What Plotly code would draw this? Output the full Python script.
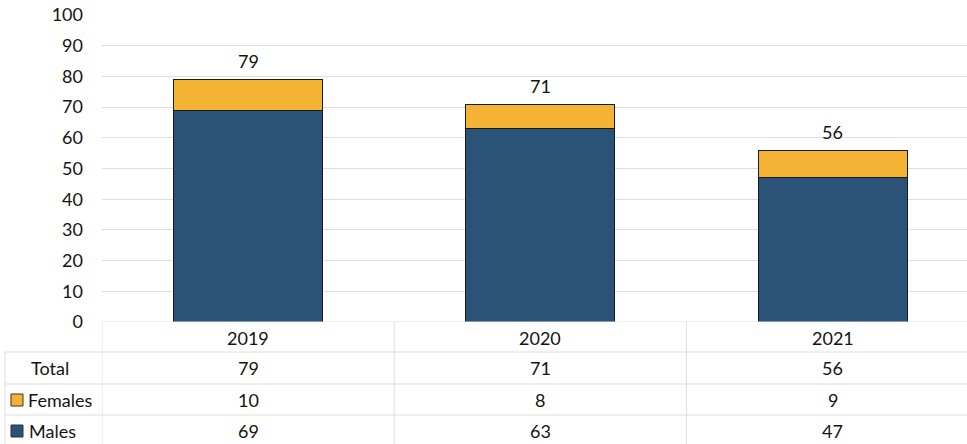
import plotly.graph_objects as go

years = ["2019", "2020", "2021"]
females = [10, 8, 9]
males = [69, 63, 47]
totals = [79, 71, 56]
y_ticks = [0, 10, 20, 30, 40, 50, 60, 70, 80, 90, 100]
row_labels = ["Total", "Females", "Males"]

MALE_C = "#2a5377"
FEMALE_C = "#f5b335"
FONT = "Lato"
TXT = "#141414"
GRID = "#dedede"
FS = 18

W, H = 967, 444
ML, MR, MT, MB = 102, 0, 15, 122
PH = H - MT - MB
PW = W - ML - MR


def py(p):
    return (H - MB - p) / PH


def px(p):
    return (p - ML) / PW


xs = list(range(len(years)))

fig = go.Figure()
fig.add_trace(go.Bar(x=xs, y=males, name="Males",
                     marker=dict(color=MALE_C, line=dict(color="#1a1a1a", width=1)), width=0.51))
fig.add_trace(go.Bar(x=xs, y=females, name="Females",
                     marker=dict(color=FEMALE_C, line=dict(color="#1a1a1a", width=1)), width=0.51))

shapes = []
annotations = []
font = dict(family=FONT, size=FS, color=TXT)
# total labels above bars
for i, t in enumerate(totals):
    annotations.append(dict(x=i, y=t, xref="x", yref="y", text=str(t), showarrow=False,
                            font=font, yanchor="bottom", yshift=5))
# table rows
row_y = [368, 400, 431]
row_vals = [totals, females, males]
for lab, yp, vals in zip(row_labels, row_y, row_vals):
    for i, v in enumerate(vals):
        annotations.append(dict(x=i, y=py(yp), xref="x", yref="paper", text=str(v), showarrow=False,
                                font=font, yanchor="middle"))
for i, y in enumerate(years):
    annotations.append(dict(x=i, y=py(338), xref="x", yref="paper", text=y, showarrow=False,
                            font=font, yanchor="middle"))
# row labels
for lab, xp, yp in [(row_labels[0], 29, 368), (row_labels[1], 26, 400), (row_labels[2], 27, 431)]:
    annotations.append(dict(x=px(xp), y=py(yp), xref="paper", yref="paper", text=lab, showarrow=False,
                            font=font, xanchor="left", yanchor="middle"))
# legend keys
for yp, c in [(400, FEMALE_C), (431, MALE_C)]:
    shapes.append(dict(type="rect", xref="paper", yref="paper", x0=px(11), x1=px(23),
                       y0=py(yp + 6), y1=py(yp - 6), fillcolor=c, line=dict(color="#333", width=1)))
# horizontal table lines
for yp in [352, 384, 415]:
    shapes.append(dict(type="line", xref="paper", yref="paper", x0=px(5), x1=1, y0=py(yp), y1=py(yp),
                       line=dict(color=GRID, width=1)))
# left border of row-label column
shapes.append(dict(type="line", xref="paper", yref="paper", x0=px(5), x1=px(5), y0=py(352), y1=py(444),
                   line=dict(color=GRID, width=1)))
# vertical category boundaries
for b in [-0.5, 0.5, 1.5]:
    shapes.append(dict(type="line", xref="x", yref="paper", x0=b, x1=b, y0=0, y1=py(444),
                       line=dict(color=GRID, width=1)))
# horizontal axis baseline
shapes.append(dict(type="line", xref="paper", yref="y", x0=0, x1=1, y0=0, y1=0,
                   line=dict(color=GRID, width=1)))

fig.update_layout(
    width=W, height=H, barmode="stack", showlegend=False,
    margin=dict(l=ML, r=MR, t=MT, b=MB),
    plot_bgcolor="white", paper_bgcolor="white",
    font=font,
    xaxis=dict(range=[-0.5, 2.46], showticklabels=False, showgrid=False, zeroline=False, fixedrange=True),
    yaxis=dict(range=[0, 100], tickvals=y_ticks, showgrid=True, gridcolor=GRID, gridwidth=1,
               zeroline=False, ticks="", ticklabelstandoff=18, tickfont=font),
    shapes=shapes, annotations=annotations,
)
fig.write_html("out.html", config={"displayModeBar": False},
               post_script="document.body.style.margin='0';document.body.style.overflow='hidden';")
